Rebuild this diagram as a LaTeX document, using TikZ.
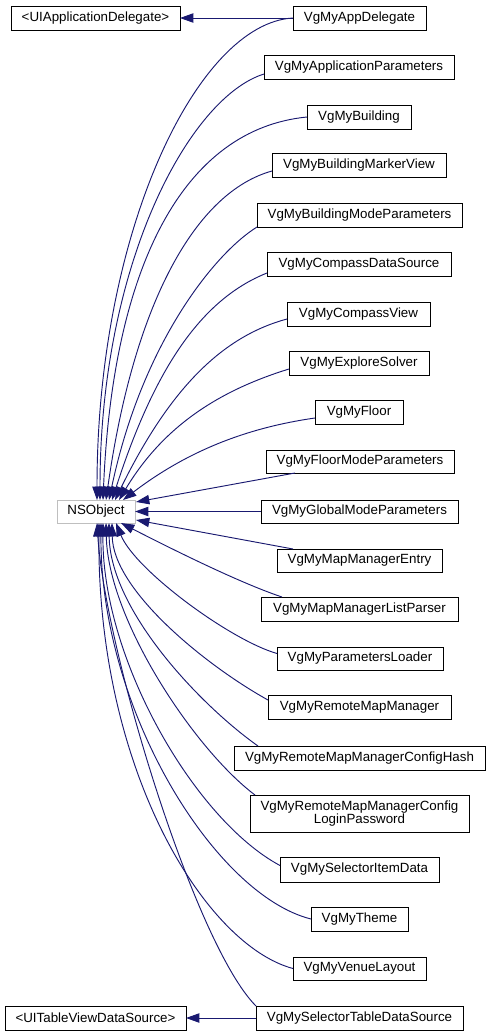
\documentclass[tikz,border=0pt]{standalone}
\usepackage{fontspec}
\setmainfont{Liberation Sans}
\usetikzlibrary{arrows.meta,calc}
\definecolor{edgec}{RGB}{25,25,112}
\definecolor{nsgray}{RGB}{191,191,191}
\tikzset{
  cls/.style={draw=black,line width=0.75pt,fill=white,inner sep=0pt,outer sep=0pt,
    font=\fontsize{10pt}{9.8pt}\selectfont,align=center},
  nsbox/.style={cls,draw=nsgray},
  edge/.style={draw=edgec,line width=0.7pt,-{Triangle[length=10pt,width=7pt]}},
}
\newcommand\cls[7][cls]{\node[#1,minimum width={(#4-#3)*0.75pt},minimum height={(#6-#5)*0.75pt}] (#2) at ({(#3+#4)/2},{(#5+#6)/2}) {#7};}
\begin{document}
\begin{tikzpicture}[x=0.75pt,y=-0.75pt]
\useasboundingbox (0,0) rectangle (490,1036);
% edges first (under boxes)
\path (0,0);
\cls{uiad}{11}{180}{6}{30}{<UIApplicationDelegate>}
\cls{ad}{293}{426}{6}{30}{VgMyAppDelegate}
\cls{ap}{264}{454}{55}{79}{VgMyApplicationParameters}
\cls{bu}{307}{411}{105}{129}{VgMyBuilding}
\cls{bmv}{272}{446}{153}{177}{VgMyBuildingMarkerView}
\cls{bmp}{257}{462}{203}{227}{VgMyBuildingModeParameters}
\cls{cds}{267}{451}{252}{276}{VgMyCompassDataSource}
\cls{cv}{287}{430}{302}{326}{VgMyCompassView}
\cls{es}{289}{429}{351}{375}{VgMyExploreSolver}
\cls{fl}{315}{403}{400}{424}{VgMyFloor}
\cls{fmp}{266}{454}{450}{473}{VgMyFloorModeParameters}
\cls{gmp}{261}{458}{500}{523}{VgMyGlobalModeParameters}
\cls[nsbox]{ns}{57}{135}{500}{523}{NSObject}
\cls{mme}{277}{442}{549}{572}{VgMyMapManagerEntry}
\cls{lmp}{261}{458}{597}{621}{VgMyMapManagerListParser}
\cls{pl}{277}{443}{647}{670}{VgMyParametersLoader}
\cls{rmm}{268}{451}{695}{719}{VgMyRemoteMapManager}
\cls{ch}{234}{485}{746}{770}{VgMyRemoteMapManagerConfigHash}
\cls{lpw}{250}{469}{795}{832}{VgMyRemoteMapManagerConfig\\LoginPassword}
\cls{sid}{280}{439}{857}{882}{VgMySelectorItemData}
\cls{th}{311}{408}{907}{931}{VgMyTheme}
\cls{vl}{293}{426}{957}{980}{VgMyVenueLayout}
\cls{stds}{256}{463}{1006}{1030}{VgMySelectorTableDataSource}
\cls{uitv}{5}{186}{1006}{1030}{<UITableViewDataSource>}

% protocol edges
\draw[edge] (ad.west) -- (uiad.east);
\draw[edge] (stds.west) -- (uitv.east);

% upper edges
\draw[edge] (ad.west) .. controls (198,23) and (97,230) .. ($(ns.north)+(1,0)$);
\draw[edge] ($(ap.west)+(0,7)$) .. controls (190,97) and (100,262) .. ($(ns.north)+(4,0)$);
\draw[edge] (bu.west) .. controls (185,129) and (113,263) .. ($(ns.north)+(7,0)$);
\draw[edge] ($(bmv.west)+(0,6)$) .. controls (196,192) and (134,302) .. ($(ns.north)+(10,0)$);
\draw[edge] (bmp.south west) .. controls (215,253) and (142,343) .. ($(ns.north)+(13,0)$);
\draw[edge] ($(cds.west)+(0,9)$) .. controls (202,299) and (155,367) .. ($(ns.north)+(16,0)$);
\draw[edge] ($(cv.west)+(0,5)$) .. controls (220,337) and (168,392) .. ($(ns.north)+(19,0)$);
\draw[edge] ($(es.west)+(0,6)$) .. controls (211,393) and (160,432) .. ($(ns.north)+(23,0)$);
\draw[edge] ($(fl.west)+(0,6)$) .. controls (245,428) and (186,452) .. ($(ns.north)+(27,0)$);
\draw[edge] ($(fmp.south west)+(29,0)$) -- ($(ns.north east)+(1,2)$);
\draw[edge] (gmp.west) -- (ns.east);
\draw[edge] ($(mme.north west)+(16,0)$) -- ($(ns.south east)+(1,-3)$);

% lower edges
\draw[edge] ($(lmp.north west)+(21,0)$) .. controls (252,587) and (203,565) .. ($(ns.south)+(25,0)$);
\draw[edge] ($(pl.west)+(0,-5)$) .. controls (230,640) and (135,570) .. ($(ns.south)+(20,0)$);
\draw[edge] ($(rmm.west)+(0,-7)$) .. controls (205,665) and (113,590) .. ($(ns.south)+(16,0)$);
\draw[edge] ($(ch.north west)+(24,0)$) .. controls (200,705) and (110,610) .. ($(ns.south)+(13,0)$);
\draw[edge] ($(lpw.north west)+(5,0)$) .. controls (195,750) and (108,620) .. ($(ns.south)+(10,0)$);
\draw[edge] ($(sid.west)+(0,-4)$) .. controls (195,820) and (102,660) .. ($(ns.south)+(7,0)$);
\draw[edge] (th.west) .. controls (215,895) and (100,710) .. ($(ns.south)+(5,0)$);
\draw[edge] (vl.west) .. controls (205,945) and (97,770) .. ($(ns.south)+(3,0)$);
\draw[edge] (stds.north west) .. controls (195,945) and (105,650) .. ($(ns.south)+(1,0)$);
\end{tikzpicture}
\end{document}
